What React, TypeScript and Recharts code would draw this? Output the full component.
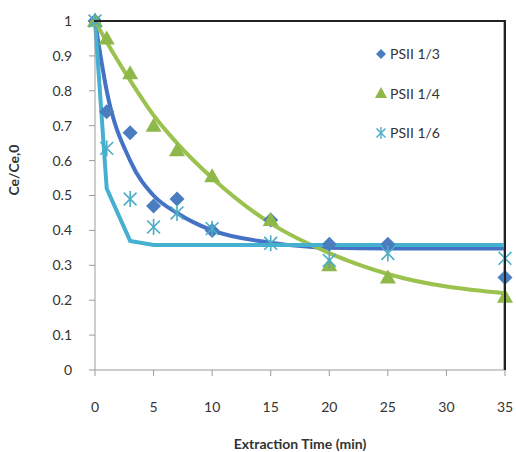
import React from 'react';
import { ComposedChart, Line, Scatter, XAxis, YAxis, Legend, ReferenceLine } from 'recharts';

const times = [0, 1, 3, 5, 7, 10, 15, 20, 25, 35];
const psii13 = [1.0, 0.74, 0.68, 0.47, 0.49, 0.40, 0.43, 0.36, 0.36, 0.265];
const psii14 = [1.0, 0.95, 0.85, 0.70, 0.63, 0.555, 0.43, 0.30, 0.265, 0.21];
const psii16 = [1.0, 0.635, 0.49, 0.41, 0.45, 0.405, 0.363, 0.314, 0.334, 0.32];
const fit13 = [1.0, 0.80, 0.60, 0.50, 0.45, 0.40, 0.365, 0.35, 0.348, 0.348];
const fit14 = [1.0, 0.94, 0.83, 0.73, 0.65, 0.55, 0.42, 0.335, 0.275, 0.22];
const fit16 = [1.0, 0.52, 0.37, 0.358, 0.358, 0.358, 0.358, 0.358, 0.358, 0.358];
const xTicks = [0, 5, 10, 15, 20, 25, 30, 35];
const yTicks = [0, 0.1, 0.2, 0.3, 0.4, 0.5, 0.6, 0.7, 0.8, 0.9, 1];
const seriesNames = ['PSII 1/3', 'PSII 1/4', 'PSII 1/6'];

const build = (ys: number[]) => times.map((t, i) => ({ t, v: ys[i] }));

const C_BLUE = '#4A7CC0';
const C_BLUE_LINE = '#4472C4';
const C_GREEN = '#8FB84A';
const C_GREEN_LINE = '#9BC24F';
const C_CYAN = '#4BACC6';
const C_CYAN_LINE = '#45B0CF';

const FONT = 'Lato, "Open Sans", sans-serif';

const W = 516;
const H = 452;
const M = { top: 21, right: 11, bottom: 42, left: 0 };
const Y_W = 95;
const X_H = 40;
const PLOT_LEFT = M.left + Y_W;
const PLOT_TOP = M.top;
const PLOT_W = W - M.left - M.right - Y_W;
const PLOT_H = H - M.top - M.bottom - X_H;

const Diamond = (p: any) => {
  const { cx, cy } = p;
  const r = 7.5;
  return <path d={`M${cx},${cy - r}L${cx + r},${cy}L${cx},${cy + r}L${cx - r},${cy}Z`} fill={C_BLUE} />;
};
const Triangle = (p: any) => {
  const { cx, cy } = p;
  const r = 8;
  return <path d={`M${cx},${cy - r}L${cx + r},${cy + r * 0.75}L${cx - r},${cy + r * 0.75}Z`} fill={C_GREEN} />;
};
const Asterisk = (p: any) => {
  const { cx, cy } = p;
  const r = 8;
  const d = r * 0.8;
  return (
    <g stroke={C_CYAN} strokeWidth={1.6} fill="none">
      <line x1={cx} y1={cy - r} x2={cx} y2={cy + r} />
      <line x1={cx - d} y1={cy - d} x2={cx + d} y2={cy + d} />
      <line x1={cx - d} y1={cy + d} x2={cx + d} y2={cy - d} />
    </g>
  );
};

const LegendContent = () => {
  const markers = [
    <path key="d" d="M6,1L11,6L6,11L1,6Z" fill={C_BLUE} />,
    <path key="t" d="M6,0L12,11L0,11Z" fill={C_GREEN} />,
    <g key="a" stroke={C_CYAN} strokeWidth={1.4}>
      <line x1={6} y1={0} x2={6} y2={12} />
      <line x1={1.5} y1={1.5} x2={10.5} y2={10.5} />
      <line x1={1.5} y1={10.5} x2={10.5} y2={1.5} />
    </g>,
  ];
  return (
    <div
      style={{
        width: PLOT_W + 2,
        height: PLOT_H + 1,
        borderTop: '2px solid #222',
        borderRight: '2px solid #222',
        boxSizing: 'border-box',
        paddingLeft: 375 - PLOT_LEFT + 1,
        paddingTop: 12,
        fontFamily: FONT,
        fontSize: 14,
        color: '#333',
      }}
    >
      {seriesNames.map((n, i) => (
        <div key={n} style={{ display: 'flex', alignItems: 'center', height: 39.5 }}>
          <svg width={13} height={12} style={{ marginRight: 2 }}>{markers[i]}</svg>
          <span>{n}</span>
        </div>
      ))}
    </div>
  );
};

export default function App() {
  return (
    <div style={{ position: 'absolute', left: 0, top: 0, width: W, height: H, background: '#fff' }}>
      <ComposedChart width={W} height={H} margin={M}>
        <XAxis
          type="number"
          dataKey="t"
          domain={[0, 35]}
          ticks={xTicks}
          interval={0}
          height={X_H}
          stroke="#999"
          tickSize={6}
          tick={{ fill: '#333', fontSize: 14, fontFamily: FONT, dy: 24 }}
          label={{ value: 'Extraction Time (min)', position: 'insideBottom', offset: -39, fill: '#333', fontSize: 14, fontWeight: 700, fontFamily: FONT }}
        />
        <YAxis
          type="number"
          dataKey="v"
          domain={[0, 1]}
          ticks={yTicks}
          interval={0}
          width={Y_W}
          stroke="#999"
          tickSize={6}
          tick={{ fill: '#333', fontSize: 14, fontFamily: FONT, dx: -15 }}
          label={{ value: 'Ce/Ce,0', angle: -90, position: 'insideLeft', offset: 14, fill: '#333', fontSize: 14, fontWeight: 700, fontFamily: FONT }}
        />
        <ReferenceLine x={34.97} stroke="#222" strokeWidth={2} />
        <Legend
          layout="horizontal"
          verticalAlign="middle"
          align="center"
          content={<LegendContent />}
          wrapperStyle={{ position: 'absolute', left: PLOT_LEFT - 1, top: PLOT_TOP - 1, width: PLOT_W + 2, height: PLOT_H + 1, pointerEvents: 'none' }}
        />
        <Scatter name={seriesNames[0]} data={build(psii13)} shape={<Diamond />} isAnimationActive={false} legendType="none" />
        <Scatter name={seriesNames[1]} data={build(psii14)} shape={<Triangle />} isAnimationActive={false} legendType="none" />
        <Scatter name={seriesNames[2]} data={build(psii16)} shape={<Asterisk />} isAnimationActive={false} legendType="none" />
        <Line data={build(fit13)} dataKey="v" type="monotone" stroke={C_BLUE_LINE} strokeWidth={4} dot={false} isAnimationActive={false} legendType="none" />
        <Line data={build(fit14)} dataKey="v" type="monotone" stroke={C_GREEN_LINE} strokeWidth={4} dot={false} isAnimationActive={false} legendType="none" />
        <Line data={build(fit16)} dataKey="v" type="linear" stroke={C_CYAN_LINE} strokeWidth={4} dot={false} isAnimationActive={false} legendType="none" />
      </ComposedChart>
    </div>
  );
}
